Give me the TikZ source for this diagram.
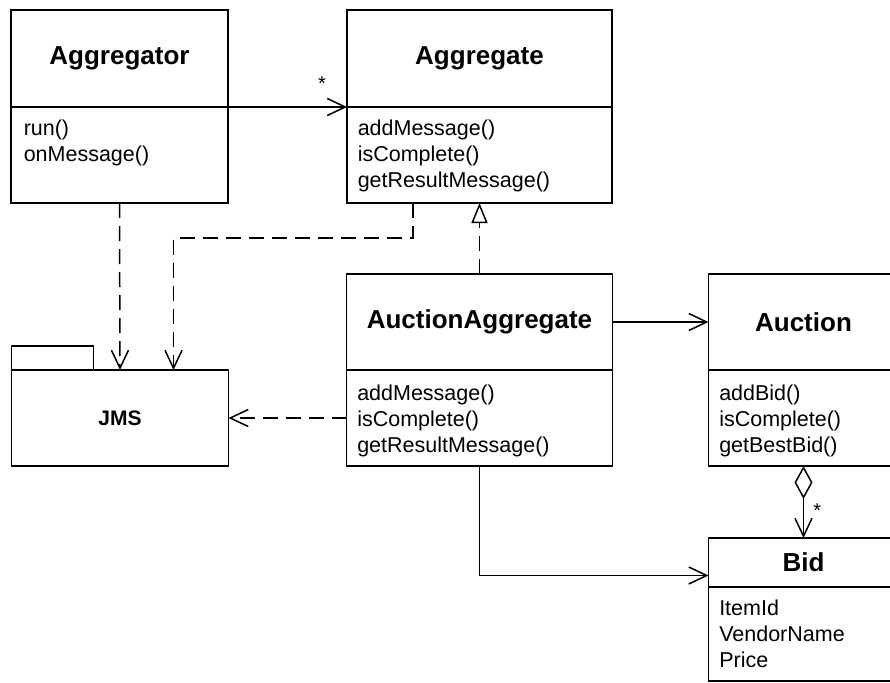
\documentclass[tikz,border=0pt]{standalone}
\usepackage{fontspec}
\setmainfont{Liberation Sans}
\usetikzlibrary{arrows.meta, positioning}

\begin{document}
\begin{tikzpicture}[
  x=1pt, y=1pt, line width=1.5pt,
  classhead/.style={
    draw, fill=white, outer sep=0pt, inner sep=0pt,
    minimum height=97pt,
    font=\bfseries\fontsize{26}{30}\selectfont
  },
  classbody/.style={
    draw, fill=white, outer sep=0pt, inner sep=0pt,
    minimum height=96pt
  },
  ops/.style={
    anchor=north west, align=left, inner sep=0pt,
    font=\fontsize{21.5}{26}\selectfont
  },
  mult/.style={inner sep=0pt, font=\fontsize{20}{24}\selectfont},
  barb/.style={-{Straight Barb[length=18pt, width=17pt]}},
  dep/.style={barb, dash pattern=on 15pt off 8pt},
  real/.style={-{Triangle[open, fill=white, length=20pt, width=16pt]}, dash pattern=on 15pt off 8pt},
  aggr/.style={{Diamond[open, fill=white, length=33pt, width=18pt]}-{Straight Barb[length=18pt, width=17pt]}}
]
  \useasboundingbox (0,0) rectangle (890,-682);
  \clip (0,0) rectangle (890,-682);

  % classes
  \node[classhead, minimum width=217pt, anchor=north west] (agr) at (11,-10) {Aggregator};
  \node[classbody, minimum width=217pt, below=0pt of agr] (agrops) {};
  \node[ops] (agrtxt) at ([xshift=12pt, yshift=-12.5pt]agrops.north west) {run()\\onMessage()};

  \node[classhead, minimum width=265pt, right=119pt of agr] (agg) {Aggregate};
  \node[classbody, minimum width=265pt, below=0pt of agg] (aggops) {};
  \node[ops] (aggtxt) at ([xshift=10pt, yshift=-12.5pt]aggops.north west) {addMessage()\\isComplete()\\getResultMessage()};

  \node[classhead, minimum width=266pt, minimum height=96pt, below=71pt of aggops] (aa) {AuctionAggregate};
  \node[classbody, minimum width=266pt, below=0pt of aa] (aaops) {};
  \node[ops] (aatxt) at ([xshift=10pt, yshift=-14pt]aaops.north west) {addMessage()\\isComplete()\\getResultMessage()};

  \node[classhead, minimum width=190pt, minimum height=96pt, right=96pt of aa] (au) {Auction};
  \node[classbody, minimum width=190pt, below=0pt of au] (auops) {};
  \node[ops] (autxt) at ([xshift=10pt, yshift=-14pt]auops.north west) {addBid()\\isComplete()\\getBestBid()};

  \node[classhead, minimum width=190pt, minimum height=49pt, below=72pt of auops] (bid) {Bid};
  \node[classbody, minimum width=190pt, minimum height=94pt, below=0pt of bid] (bidatt) {};
  \node[ops] (bidtxt) at ([xshift=10pt, yshift=-12.5pt]bidatt.north west) {ItemId\\VendorName\\Price};

  % package
  \node[classbody, minimum width=217pt, left=118pt of aaops,
        font=\bfseries\fontsize{21}{25}\selectfont] (jms) {JMS};
  \node[classbody, minimum width=82pt, minimum height=24pt, anchor=south west] (jmstab) at (jms.north west) {};

  % relations
  \draw[barb] (agr.south east) -- (agg.south west)
    node[mult, pos=0.79, above=16pt] (agrmult) {*};
  \draw[dep] (agrops.south) -- (jms.north);
  \draw[dep] ([xshift=66pt]aggops.south west) -- ++(0,-35) -| ([xshift=162pt]jms.north west);
  \draw[real] (aa.north) -- (aggops.south);
  \draw[barb] (aa.east) -- (au.west);
  \draw[dep] (aaops.west) -- (jms.east);
  \draw[barb] (aaops.south) |- ([yshift=-13pt]bid.west);
  \draw[aggr] (auops.south) -- (bid.north)
    node[mult, pos=0.62, right=9pt] (bidmult) {*};
\end{tikzpicture}
\end{document}
